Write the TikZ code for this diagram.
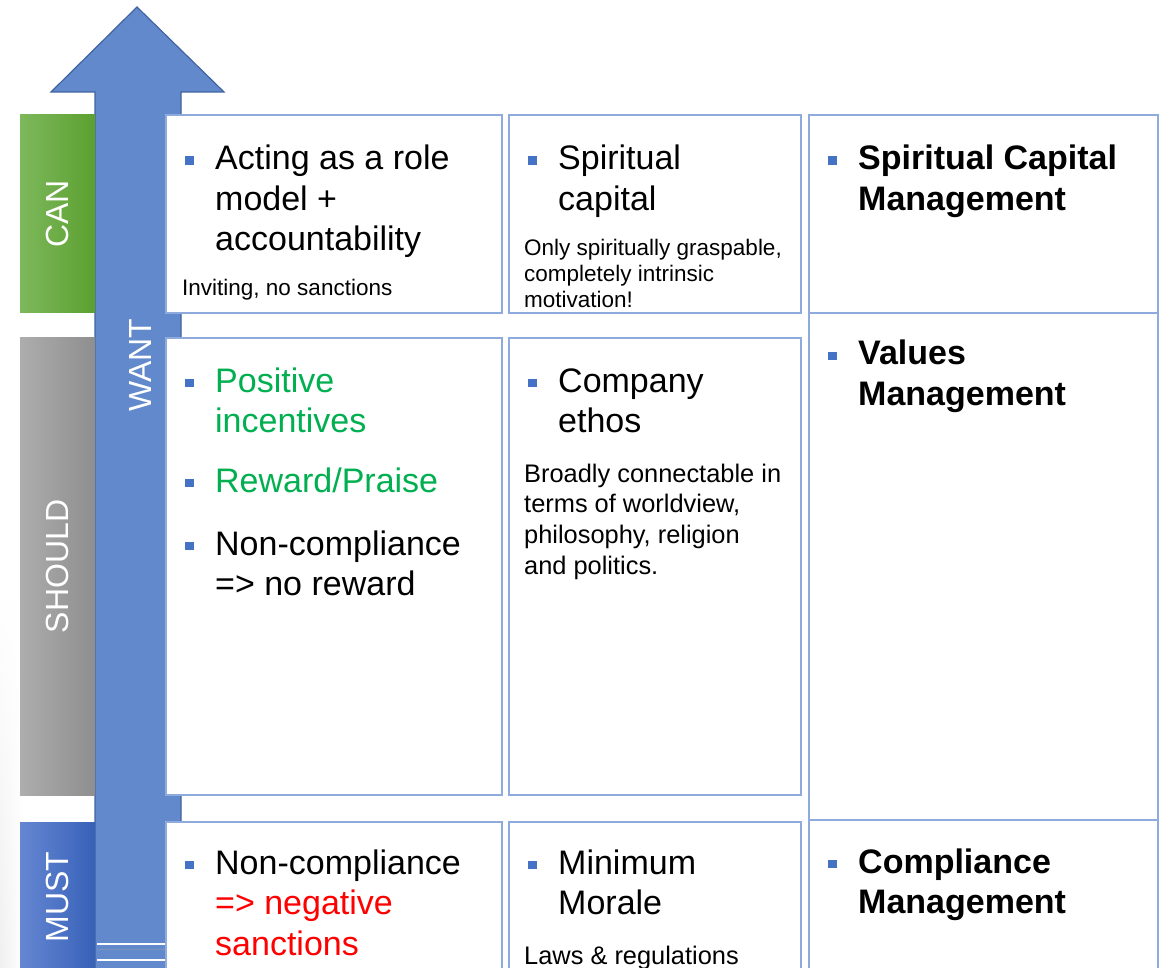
\documentclass[tikz,border=0pt]{standalone}
\usepackage{fontspec}
\setmainfont{Liberation Sans}
\usetikzlibrary{fadings}
\definecolor{arrowblue}{HTML}{6389CD}
\definecolor{arrowedge}{HTML}{40649F}
\definecolor{cellline}{HTML}{8FAADC}
\definecolor{bulblue}{HTML}{4472C4}
\definecolor{okgreen}{HTML}{00B050}
\definecolor{badred}{HTML}{FF0000}
\definecolor{canL}{HTML}{7DB85C}
\definecolor{canR}{HTML}{5CA030}
\definecolor{shouldL}{HTML}{ADADAD}
\definecolor{shouldR}{HTML}{8E8E8E}
\definecolor{mustL}{HTML}{6587D2}
\definecolor{mustR}{HTML}{3761B8}

% square bullet followed by the indent of the item text
\newcommand{\bul}{\makebox[30pt][l]{\textcolor{bulblue}{\rule[5pt]{9pt}{8.5pt}}}}
% block of lines whose first baseline sits on the node's base
\newcommand{\lines}[1]{\begin{tabular}[t]{@{}l@{}l@{}}#1\end{tabular}}

\begin{document}
\begin{tikzpicture}[x=1pt,y=-1pt,
  cell/.style={draw=cellline, line width=1.5pt, fill=white, anchor=north west,
    inner sep=0pt, outer sep=0pt},
  level/.style={anchor=north west, inner sep=0pt, outer sep=0pt,
    minimum width=75pt},
  leveltext/.style={rotate=90, text=white, inner sep=0pt,
    font=\fontsize{32}{38}\selectfont},
  big/.style={anchor=base west, inner sep=0pt, font=\fontsize{34}{40.5}\selectfont},
  bigbold/.style={big, font=\fontsize{34}{40.5}\selectfont\bfseries},
  small/.style={anchor=base west, inner sep=0pt, font=\fontsize{22.5}{26}\selectfont},
  note/.style={anchor=base west, inner sep=0pt, font=\fontsize{25.4}{30.7}\selectfont}]

\useasboundingbox (0,0) rectangle (1168,968);
\fill[white] (0,0) rectangle (1168,968);
\shade[left color=black!6, right color=white, path fading=north] (0,600) rectangle (24,968);

% rising arrow behind the grid
\draw[fill=arrowblue, draw=arrowedge, line width=1.2pt, line join=miter]
  (95,975) -- (95,92) -- (51,92) -- (137,7) -- (224,92) -- (181,92) -- (181,975);
\node[leveltext] (want) at (140,365) {WANT};
\draw[white, line width=2.2pt] (97,944) -- (165,944);
\draw[arrowedge!70, line width=0.8pt] (97,949) -- (165,949);
\draw[white, line width=2.2pt] (97,960) -- (165,960);

% level bands on the left
\node[level, minimum height=198pt, left color=canL, right color=canR] (can) at (20,115) {};
\node[level, minimum height=457pt, left color=shouldL, right color=shouldR] (should) at (20,338) {};
\node[level, minimum height=150pt, left color=mustL, right color=mustR] (must) at (20,822) {};
\node[leveltext] (cantext) at (can.center) {CAN};
\node[leveltext] (shouldtext) at (should.center) {SHOULD};
\node[leveltext] (musttext) at (must.center) {MUST};

% grid cells
\node[cell, minimum width=336pt, minimum height=198pt] (c11) at (166,115) {};
\node[cell, minimum width=292pt, minimum height=198pt] (c12) at (509,115) {};
\node[cell, minimum width=336pt, minimum height=457pt] (c21) at (166,338) {};
\node[cell, minimum width=292pt, minimum height=457pt] (c22) at (509,338) {};
\node[cell, minimum width=336pt, minimum height=160pt] (c31) at (166,822) {};
\node[cell, minimum width=292pt, minimum height=160pt] (c32) at (509,822) {};
\node[cell, minimum width=349pt, minimum height=198pt] (c13) at (809,115) {};
\node[cell, minimum width=349pt, minimum height=507pt] (c23) at (809,313) {};
\node[cell, minimum width=349pt, minimum height=160pt] (c33) at (809,820) {};

% CAN row
\node[big] (t11) at (185,170) {\lines{\bul & Acting as a role\\ & model +\\ & accountability}};
\node[small] (n11) at (182,296) {Inviting, no sanctions};
\node[big] (t12) at (528,170) {\lines{\bul & Spiritual\\ & capital}};
\node[small] (n12) at (524,256) {\lines{Only spiritually graspable,\\completely intrinsic\\motivation!}};
\node[bigbold] (t13) at (828,170) {\lines{\bul & Spiritual Capital\\ & Management}};

% SHOULD row
\node[big] (t21a) at (185,392) {\lines{\bul & \textcolor{okgreen}{Positive}\\ & \textcolor{okgreen}{incentives}}};
\node[big] (t21b) at (185,492) {\lines{\bul & \textcolor{okgreen}{Reward/Praise}}};
\node[big] (t21c) at (185,555) {\lines{\bul & Non-compliance\\ & => no reward}};
\node[big] (t22) at (528,392) {\lines{\bul & Company\\ & ethos}};
\node[note] (n22) at (524,482) {\lines{Broadly connectable in\\terms of worldview,\\philosophy, religion\\and politics.}};
\node[bigbold] (t23) at (828,365) {\lines{\bul & Values\\ & Management}};

% MUST row
\node[big] (t31) at (185,874) {\lines{\bul & Non-compliance\\ & \textcolor{badred}{=> negative}\\ & \textcolor{badred}{sanctions}}};
\node[big] (t32) at (528,874) {\lines{\bul & Minimum\\ & Morale}};
\node[note] (n32) at (524,964) {Laws \& regulations};
\node[bigbold] (t33) at (828,873) {\lines{\bul & Compliance\\ & Management}};
\end{tikzpicture}
\end{document}
